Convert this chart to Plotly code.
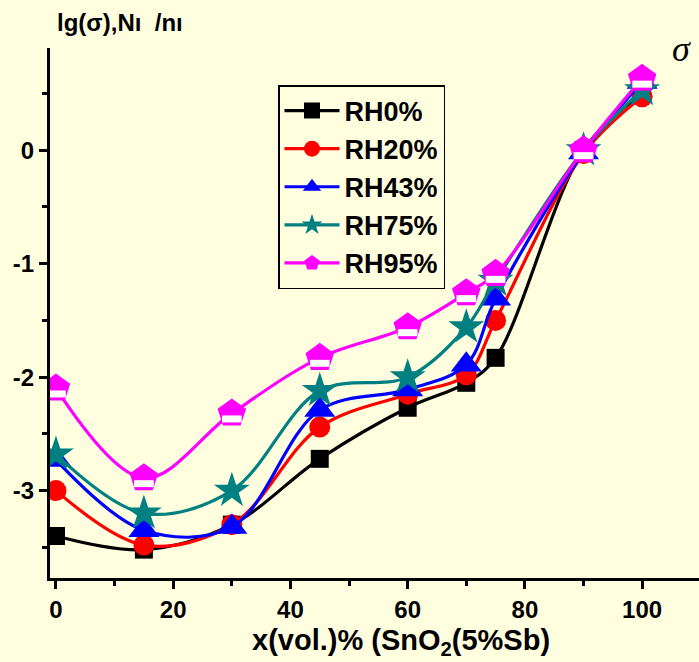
import plotly.graph_objects as go

# Composition, vol.% of SnO2(5%Sb)
x_vol = [0, 15, 30, 45, 60, 70, 75, 90, 100]

# lg(sigma) at each relative humidity
lg_rh0 = [-3.40, -3.52, -3.30, -2.72, -2.27, -2.05, -1.83, 0.00, 0.50]
lg_rh20 = [-3.00, -3.48, -3.30, -2.44, -2.15, -1.98, -1.50, -0.03, 0.47]
lg_rh43 = [-2.73, -3.35, -3.32, -2.29, -2.11, -1.89, -1.31, -0.02, 0.60]
lg_rh75 = [-2.68, -3.20, -3.00, -2.12, -2.00, -1.56, -1.15, 0.00, 0.53]
lg_rh95 = [-2.10, -2.89, -2.32, -1.83, -1.56, -1.26, -1.09, 0.00, 0.63]

series_names = ["RH0%", "RH20%", "RH43%", "RH75%", "RH95%"]
x_ticks = [0, 20, 40, 60, 80, 100]
y_ticks = [-3, -2, -1, 0]

BG = "#FFFFE0"
Y_RANGE = [-3.77, 0.9]
X_RANGE = [-1.02, 109.7]
PLOT_H = 530

styles = [
    dict(color="#000000", symbol="square", size=18),
    dict(color="#FF0000", symbol="circle", size=21),
    dict(color="#0000FF", symbol="triangle-up", size=27),
    dict(color="#008080", symbol="star", size=27),
    dict(color="#FF00FF", symbol="pentagon", size=30),
]

fig = go.Figure()
for name, ys, st in zip(series_names, [lg_rh0, lg_rh20, lg_rh43, lg_rh75, lg_rh95], styles):
    fig.add_trace(go.Scatter(
        x=x_vol, y=ys, name=name, mode="lines+markers",
        line=dict(color=st["color"], width=3.2, shape="spline", smoothing=1.0),
        marker=dict(symbol=st["symbol"], size=st["size"], color=st["color"],
                    line=dict(width=0)),
    ))

# white lower half of the pentagon markers (drawn on a slightly shifted overlay axis)
shift = 5.5 / (PLOT_H / (Y_RANGE[1] - Y_RANGE[0]))
fig.add_trace(go.Scatter(
    x=x_vol, y=lg_rh95, yaxis="y2", mode="markers", showlegend=False,
    hoverinfo="skip",
    marker=dict(symbol="line-ew", size=14, color="white",
                line=dict(color="white", width=7)),
))

tick_font = dict(family="Liberation Sans, Arial, sans-serif", size=24, color="black", weight="bold")

fig.update_layout(
    width=699, height=662,
    margin=dict(l=50, r=0, t=48, b=84),
    paper_bgcolor=BG, plot_bgcolor=BG,
    font=dict(family="Liberation Sans, Arial, sans-serif", color="black"),
    xaxis=dict(
        range=X_RANGE, tickvals=x_ticks, ticktext=[str(v) for v in x_ticks],
        showline=True, linecolor="black", linewidth=3, mirror=False,
        ticks="outside", ticklen=8, tickwidth=3, tickcolor="black",
        minor=dict(dtick=10, tick0=0, ticks="outside", ticklen=5, tickwidth=3, tickcolor="black"),
        showgrid=False, zeroline=False, tickfont=tick_font,
    ),
    yaxis=dict(
        range=Y_RANGE, tickvals=y_ticks, ticktext=[str(v) for v in y_ticks],
        showline=True, linecolor="black", linewidth=3, mirror=False,
        ticks="outside", ticklen=8, tickwidth=3, tickcolor="black",
        minor=dict(dtick=0.5, tick0=0, ticks="outside", ticklen=5, tickwidth=3, tickcolor="black"),
        showgrid=False, zeroline=False, tickfont=tick_font,
    ),
    yaxis2=dict(
        range=[Y_RANGE[0] + shift, Y_RANGE[1] + shift], overlaying="y",
        visible=False, showgrid=False, zeroline=False,
    ),
    legend=dict(
        x=(278 - 50) / 649, y=1 - (85 - 48) / PLOT_H, xanchor="left", yanchor="top",
        bgcolor=BG, bordercolor="black", borderwidth=1.5,
        font=dict(family="Liberation Sans, Arial, sans-serif", size=27, color="black", weight="bold"),
        itemwidth=55, tracegroupgap=0,
    ),
    showlegend=True,
)

fig.add_annotation(
    xref="paper", yref="paper", x=(55 - 50) / 649, y=1 + (48 - 23) / PLOT_H,
    xanchor="left", yanchor="middle", showarrow=False,
    text="lg(σ),Nı  /nı",
    font=dict(family="Liberation Sans, Arial, sans-serif", size=24, color="black", weight="bold"),
)
fig.add_annotation(
    xref="paper", yref="paper", x=(681 - 50) / 649, y=1 - (49 - 48) / PLOT_H,
    xanchor="center", yanchor="middle", showarrow=False,
    text="σ",
    font=dict(family="Liberation Serif, Times New Roman, serif", size=36, color="black", style="italic"),
)
fig.add_annotation(
    xref="paper", yref="paper", x=(401 - 50) / 649, y=-(642 - 578) / PLOT_H,
    xanchor="center", yanchor="middle", showarrow=False,
    text="x(vol.)% (SnO<sub>2</sub>(5%Sb)",
    font=dict(family="Liberation Sans, Arial, sans-serif", size=29,
              color="black", weight="bold"),
)

fig.write_html("out.html")
